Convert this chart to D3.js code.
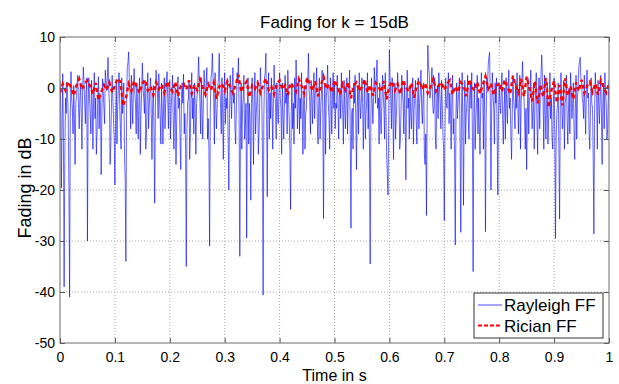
<!DOCTYPE html>
<html>
<head>
<meta charset="utf-8">
<script src="https://cdn.jsdelivr.net/npm/d3@7"></script>
<style>
  body { margin: 0; background: #fff; }
  svg { display: block; font-family: Arial, "Liberation Sans", Helvetica, sans-serif; }
</style>
</head>
<body>
<svg id="chart" width="619" height="384"></svg>
<script>
// fading samples (dB), on a 2.5 ms grid
const rayleighStep = 0.0025;
const rayleighFF = [
  1.5, -19.6, 2.8, -39, -2, 1.2, -6, -41, 3.2, -4, 0.5, -15, -1.5, 2.5, -8, 1, -12, 4.1, -3, -1,
  -30, 2, -5, 1.5, -12, 3, -2, -9, 2.2, -1, -17, 1.8, -4, 3.5, -0.5, 6, -3, -11, 2.5, -6,
  -19, 1, -4, 3, -8, 2, -2, -13, -34, 4, 7.1, -1, 2.5, -7, 3.8, -3, 1, -10, 2, -5,
  4.9, -2, 1.5, -9, 3, -4, 2, -14, 0.5, -22.6, 3.5, -1, 2.8, -6, 1, -11, 2, -3, 3.2, -8,
  1.5, -4, 2.5, -12, 0, -7, 2.2, -2, -16, 1, 2.7, -5, -35, -3, 1.5, -9, 3, -2, 1, -13,
  -1, 6.1, -3, 2, -10, 3.5, -1, 4, -6, -31, 2, 6.8, -2, 3, -8, 0.5, 6.8, -4, 2, -14,
  3, -2, 1, -20, 2.5, -6, 4, -1, -11, 3, 5.9, -33, 1, -4, 2.5, -8, -29.4, 2, -3, -22,
  2, -15, 3, -5, 1.5, -9, 4, -2, -40.6, 2, 6.8, -21.3, 3, -1, 2, -12, 4.5, -3, 1, -7,
  3, -4, 1, -10, 2.5, -1, 3.5, -6, -23.8, 1, -3, 2, 5.5, -8, 1.5, -2, 3, -13, 0.5, -5,
  2, 6.8, -3, 1.5, -7, 3, -1, 4, -11, 2, -4, 3.5, -25.6, 1, -2, 4.5, -6, 2, -9, 3,
  1, -3, 2.5, -10, 0, 3, -5, 1.5, -8, 2, -2, 3.5, -27.5, -4, 1, 2.5, -16, 0, 3, -6,
  2, -12, 1.5, -5, 3, -1, -34.5, 2, -7, 4, -3, 5.5, -2, 1, -9, 2.5, -4, 3, -13, -21,
  7.5, -2, 2, -14, 1, -6, 3, -1, -10, 2.5, -3, 1, -18, 3.5, -2, 0.5, -8, 2, -4, 1.5,
  -11, 2, -3, 3.5, -7, 1, -15, -25, 8.4, 3, -1, 4, -5, 2, -12, 0.5, 3, -3, 1.5, -9,
  -26, 2, -4, 3, -1, -12, 2.5, -6, -30.8, 1, -3, 2, -28.3, 3, -23, 1.5, -5, 2.5, -10, 1,
  3, -36, 1, -6, 2.5, -2, -13, 3, -1, 1.5, -28.2, 2, 4.5, 7, -20, 3, -4, 1, 2, -21,
  1, -5, 3, -11, 0, 2, -7, 3.5, -2, -14, 2, -4, 1, 3, -9, 2.5, -3, 5.2, -1, -12,
  -16, 2, -2, 3.5, -8, 1, -4, 3, -13, 2, -1, 6.5, -3, 2.5, -10, 1, -6, 3, -2, -12,
  2, -29.5, -5, 1, -25.7, 3, -8, 1.5, -3, 2.5, -11, 0, 3, -6, 1, -14, 2.5, -2, 4, 6,
  1, -3, 2.5, -9, 3.5, -1, -12, 2, -4, -28.6, 3, -2, 1.5, -7, 2.5, -15, 1, 3, -3, -8, 1.5
];
// samples lying halfway between the ones above
const rayleighFFMid = [
  -3, -8, -10, -14, -5, -1, -20, -6, -2, -9, -6, -3, 1, -4, -2, -5, 0, 1, -7, 2,
  -4, -2, -9, -3, -1, -6, -13, -2, -8, -4, -5, -1, -7, 1, 2, 0, -15, -3, -2, -10,
  -6, -11, 0, -3, -12, -5, 1, -18, -4, 5, 2, -8, -3, 0, -1, -9, -4, -2, -13, -1,
  0, -5, -12, -1, -8, 0, -5, -3, -9, -4, 1, -6, -2, -11, -4, -3, -8, 1, -2, 0,
  -10, -1, -6, -3, -15, 0, -4, -11, -2, -3, -9, -12, -8, -2, -14, -1, -6, -9, -4, -3,
  2, 1, -9, -5, -2, 0, 1, -10, -12, -5, 3, 2, -11, -3, -4, 2, 0, -9, -5, -2,
  -7, -4, -10, -6, -1, 0, -3, -8, -4, 1, -6, -8, -12, -2, -10, -3, -4, -11, -6, -3,
  -4, -2, -9, -2, -13, -3, 0, -12, -6, 3, -5, -3, -10, -6, -3, -2, -1, -10, -4, -1,
  -2, -13, -5, -4, -3, -9, -2, -12, -5, -8, -11, -4, 0, -3, -9, -6, -5, -2, -12, -4,
  1, 0, -9, -2, -1, -6, 0, -7, -3, -10, -1, -6, -4, -13, 0, -3, -12, -1, -2, -4,
  -8, -4, -3, -2, -6, -2, -11, -4, -2, -9, -1, -10, -5, -12, -3, -6, -4, -9, -2, -3,
  -3, -4, -10, -2, -8, -12, -6, -3, -2, 0, 2, -4, -11, -6, -3, -1, -10, -5, -17, -6,
  2, -8, -4, -3, -10, -2, 0, -12, -4, -1, -9, -6, -2, -4, -10, -5, -3, -11, -2, -6,
  -3, -8, -1, -4, -2, -13, -9, -5, 4, -2, 1, -3, -4, -10, -2, -6, 0, -8, -3, -12,
  -8, -3, 0, -7, -4, -2, -9, -13, -5, -6, -1, -10, -5, -8, -4, -11, -3, -6, -1, -4,
  -10, -5, -12, -3, -9, -7, -4, -2, -12, -5, -6, 0, 6, -2, -4, -1, -11, -3, -9, -5,
  -3, -1, -6, -4, -10, -3, -1, -4, -9, -5, -2, -8, -4, -2, -3, -12, 1, 0, -6, -4,
  -5, -9, -2, -3, -4, -12, -1, -6, -3, -8, 3, 2, -12, -4, -3, -11, -2, -6, -10, -3,
  -9, -10, -3, -12, -4, -2, -5, -12, -2, -6, -4, -9, -1, -3, -8, -4, -10, 0, 5, 2,
  -2, -6, -4, -1, -2, -9, -4, -3, -14, -5, -1, -12, -3, -2, -5, -3, -8, -1, -10, -2
];

const ricianStep = 0.005;
const ricianFF = [
  -1, 0.8, -0.5, 1.2, 0.2, -1.5, 0.5, 1.8, -0.3, 0.9, 1.5, 0.3, -1.2, 1.0, -2.4, -0.8, 0.6, -0.4, 1.1, -0.9,
  0.5, 1.9, 1.2, -3.5, -2.0, 0.8, -0.6, 1.4, 0.2, -1.0, 0.9, 1.6, -0.5, 0.3, -1.4, 1.1, -0.2, 0.7, -0.9, 1.3,
  0.1, -0.7, 1.2, -1.6, 0.4, 0.9, -0.3, 1.5, -1.1, 0.6, -0.5, 1.7, 0.2, -1.3, 0.8, -0.4, 1.1, -2.1, 0.3, 0.9,
  -0.6, 1.4, 0.2, -1.0, 0.7, 2.6, -0.8, 0.4, 1.3, -1.8, 0.5, -0.2, 1.0, -0.9, 0.6, 1.9, -0.4, 0.3, -1.2, 0.8,
  1.5, -0.3, 0.6, -1.4, 1.0, 0.2, -0.7, 1.8, 0.4, -1.1, 2.0, 0.9, -0.5, 1.3, -1.6, 0.5, 2.2, -0.2, 0.7, -0.9,
  1.6, 0.3, -1.3, 0.8, -0.4, 1.2, -2.0, 0.5, 1.1, -0.6, 0.2, 1.7, -0.9, 0.6, -1.5, 1.0, 0.3, -0.8, 1.4, -2.2,
  0.4, 1.3, -0.5, 0.8, -1.2, 1.6, 0.1, -0.7, 1.0, -1.9, 0.6, 1.4, -0.3, 0.9, -1.0, 0.2, 1.8, -0.6, 0.5, 1.1,
  -0.4, 0.8, 1.5, -1.3, 0.3, -0.8, 1.1, 0.5, -1.6, 1.7, 0.2, -0.5, 1.2, -1.1, 0.6, 2.3, -0.2, 0.9, -1.4, 0.4,
  1.0, -0.7, 1.6, 0.3, -1.2, 2.4, 0.5, -0.9, 1.8, -1.7, 2.2, 0.1, -2.6, 1.3, -3.0, 0.7, -1.8, 2.0, -3.8, -0.5,
  1.4, -2.9, 0.6, -3.4, 1.9, -1.5, 0.3, -2.2, 1.1, -0.6, 1.6, -1.0, 0.4, 1.2, -0.8, 0.9, -1.3, 1.5, 0.2, -0.9,
  1.0
];

const xTicks = [0, 0.1, 0.2, 0.3, 0.4, 0.5, 0.6, 0.7, 0.8, 0.9, 1];
const yTicks = [10, 0, -10, -20, -30, -40, -50];
const seriesNames = ["Rayleigh FF", "Rician FF"];

// merge the two sample sets into one time series
const rayleighSeries = [];
rayleighFF.forEach((v, i) => {
  rayleighSeries.push({t: i * rayleighStep, v: v});
  if (i < rayleighFFMid.length) rayleighSeries.push({t: (i + 0.5) * rayleighStep, v: rayleighFFMid[i]});
});
const ricianSeries = ricianFF.map((v, i) => ({t: i * ricianStep, v: v}));

const margin = {top: 37, right: 10, bottom: 41, left: 60};
const W = 619, H = 384;
const w = W - margin.left - margin.right;
const h = H - margin.top - margin.bottom;

const svg = d3.select("#chart");
const g = svg.append("g").attr("transform", `translate(${margin.left},${margin.top})`);

const x = d3.scaleLinear().domain([0, 1]).range([0, w]);
const y = d3.scaleLinear().domain([-50, 10]).range([h, 0]);

// dotted grid
g.append("g").selectAll("line")
  .data(xTicks.slice(1, -1)).join("line")
  .attr("x1", d => x(d)).attr("x2", d => x(d))
  .attr("y1", 0).attr("y2", h)
  .attr("stroke", "#a8a8a8").attr("stroke-dasharray", "1,2");
g.append("g").selectAll("line")
  .data(yTicks.slice(1, -1)).join("line")
  .attr("x1", 0).attr("x2", w)
  .attr("y1", d => y(d)).attr("y2", d => y(d))
  .attr("stroke", "#a8a8a8").attr("stroke-dasharray", "1,2");

svg.append("defs").append("clipPath").attr("id", "plotclip")
  .append("rect").attr("width", w).attr("height", h);

const plot = g.append("g").attr("clip-path", "url(#plotclip)");

const line = d3.line().x(d => x(d.t)).y(d => y(d.v));

plot.append("path")
  .datum(rayleighSeries)
  .attr("fill", "none")
  .attr("stroke", "#0000ff")
  .attr("stroke-width", 0.6)
  .attr("d", line);

plot.append("path")
  .datum(ricianSeries)
  .attr("fill", "none")
  .attr("stroke", "#ff0000")
  .attr("stroke-width", 2.4)
  .attr("stroke-dasharray", "4,3")
  .attr("d", line);

// axes, ticks pointing inward
const fmt = d => String(d);
const axB = g.append("g").attr("transform", `translate(0,${h})`)
  .call(d3.axisBottom(x).tickValues(xTicks).tickFormat(fmt).tickSizeInner(-5).tickSizeOuter(0).tickPadding(9));
const axL = g.append("g")
  .call(d3.axisLeft(y).tickValues(yTicks).tickFormat(fmt).tickSizeInner(-5).tickSizeOuter(0).tickPadding(5));
const axT = g.append("g")
  .call(d3.axisTop(x).tickValues(xTicks).tickFormat("").tickSizeInner(-5).tickSizeOuter(0));
const axR = g.append("g").attr("transform", `translate(${w},0)`)
  .call(d3.axisRight(y).tickValues(yTicks).tickFormat("").tickSizeInner(-5).tickSizeOuter(0));

[axB, axL, axT, axR].forEach(a => {
  a.select(".domain").remove();
  a.selectAll(".tick line").attr("stroke", "#555");
  a.selectAll("text").attr("fill", "#000")
    .style("font-family", "Arial, 'Liberation Sans', sans-serif")
    .style("font-size", "14px");
});

g.append("rect")
  .attr("width", w).attr("height", h)
  .attr("fill", "none").attr("stroke", "#6a6a6a").attr("stroke-width", 1);

// labels
svg.append("text")
  .attr("x", margin.left + w / 2).attr("y", 28)
  .attr("text-anchor", "middle").style("font-size", "17px")
  .text("Fading for k = 15dB");

svg.append("text")
  .attr("x", margin.left + w / 2).attr("y", 380.5)
  .attr("text-anchor", "middle").style("font-size", "16px")
  .text("Time in s");

svg.append("text")
  .attr("transform", `translate(31,${margin.top + h / 2 - 2}) rotate(-90)`)
  .attr("text-anchor", "middle").style("font-size", "18px")
  .text("Fading in dB");

// legend
const lg = svg.append("g").attr("transform", "translate(474,293)");
lg.append("rect")
  .attr("width", 129).attr("height", 45)
  .attr("fill", "#fff").attr("stroke", "#333").attr("stroke-width", 1);
const lgStyles = [
  {stroke: "#0000ff", width: 0.7, dash: null},
  {stroke: "#ff0000", width: 2.2, dash: "4,2"}
];
seriesNames.forEach((name, i) => {
  const yy = 12 + i * 20.5;
  lg.append("line")
    .attr("x1", 4).attr("x2", 28).attr("y1", yy).attr("y2", yy)
    .attr("stroke", lgStyles[i].stroke).attr("stroke-width", lgStyles[i].width)
    .attr("stroke-dasharray", lgStyles[i].dash);
  lg.append("text")
    .attr("x", 30).attr("y", yy + 6)
    .style("font-size", "17px")
    .text(name);
});
</script>
</body>
</html>
